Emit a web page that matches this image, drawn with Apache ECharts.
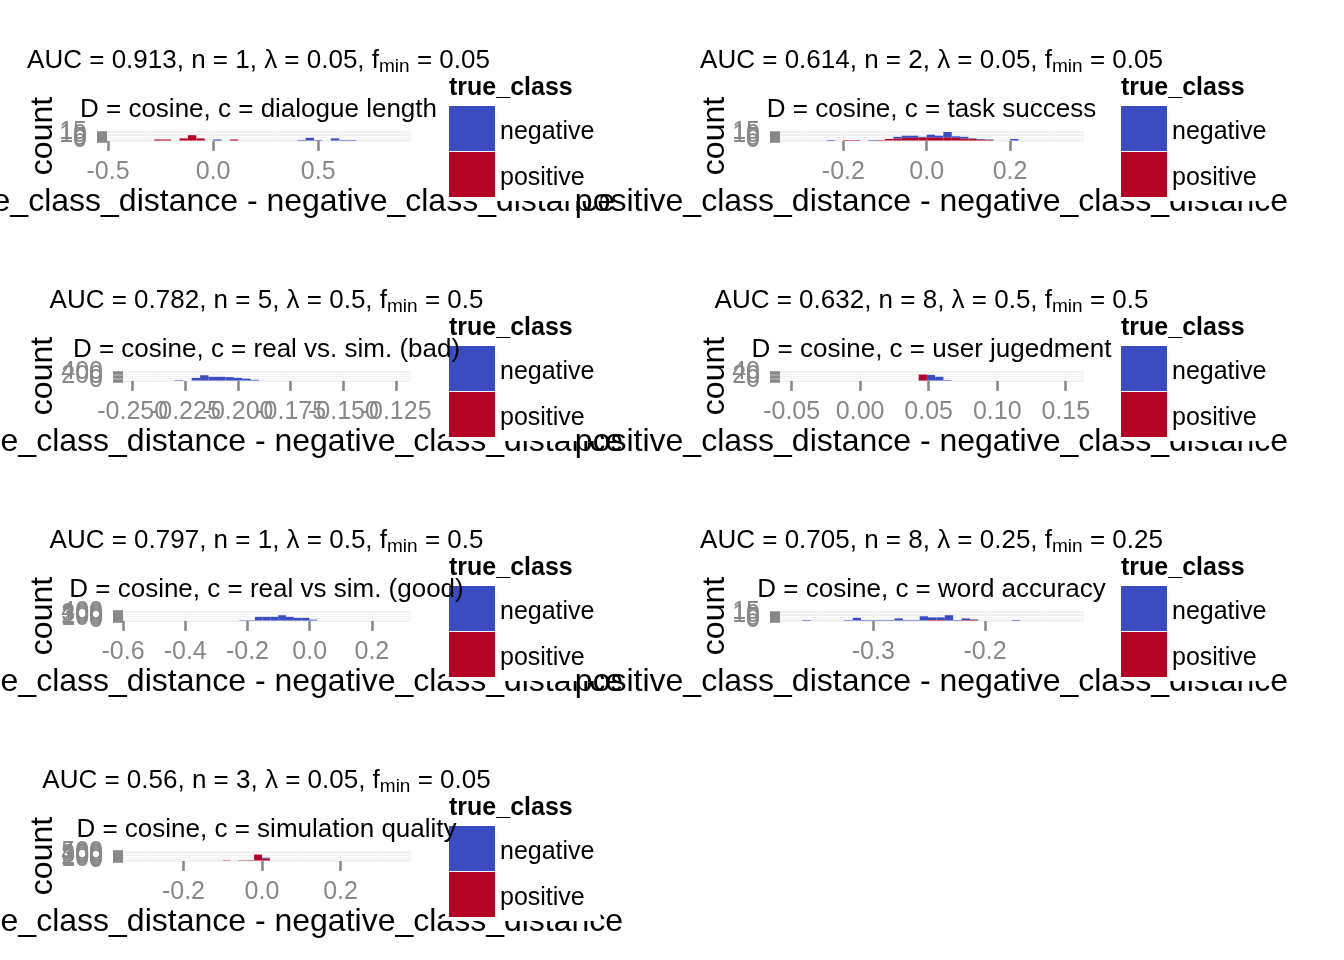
<!DOCTYPE html>
<html>
<head>
<meta charset="utf-8">
<script src="https://cdn.jsdelivr.net/npm/echarts@6/dist/echarts.min.js"></script>
<style>
html, body { margin: 0; padding: 0; background: #fff; }
#main { width: 1344px; height: 960px; }
</style>
</head>
<body>
<div id="main"></div>
<script>
// 面板标题
var titles = [
    'AUC = 0.913, n = 1, λ = 0.05, f{s|min} = 0.05',
    'AUC = 0.614, n = 2, λ = 0.05, f{s|min} = 0.05',
    'AUC = 0.782, n = 5, λ = 0.5, f{s|min} = 0.5',
    'AUC = 0.632, n = 8, λ = 0.5, f{s|min} = 0.5',
    'AUC = 0.797, n = 1, λ = 0.5, f{s|min} = 0.5',
    'AUC = 0.705, n = 8, λ = 0.25, f{s|min} = 0.25',
    'AUC = 0.56, n = 3, λ = 0.05, f{s|min} = 0.05'
];
var subtitles = [
    'D = cosine, c = dialogue length',
    'D = cosine, c = task success',
    'D = cosine, c = real vs. sim. (bad)',
    'D = cosine, c = user jugedment',
    'D = cosine, c = real vs sim. (good)',
    'D = cosine, c = word accuracy',
    'D = cosine, c = simulation quality'
];
var classNames = ['negative', 'positive'];

// histogram bins: left edge of first bin, bin width
var binStart = [-0.28, -0.24, -0.230, 0.0427, -0.226, -0.3635, -0.10];
var binWidth = [0.04, 0.02, 0.004, 0.006, 0.025, 0.0075, 0.02];

// counts per bin (negative stacked on top of positive)
var neg1 = [0, 0, 0, 0, 0, 0, 0, 2, 0, 0, 0, 0, 0, 0, 0, 0, 0, 1, 5, 1, 0, 4, 1, 1];
var pos1 = [2, 2, 0, 4, 10, 4, 0, 0, 0, 2, 0, 0, 0, 0, 0, 0, 0, 0, 0, 0, 0, 0, 0, 0];
var neg2 = [1, 0, 0, 0, 0, 1, 0, 0, 3, 4, 4, 1, 5, 4, 10, 3, 3, 1, 1, 1, 0, 0, 3];
var pos2 = [0, 0, 1, 1, 0, 0, 1, 3, 4, 5, 5, 6, 6, 5, 6, 5, 4, 3, 2, 1, 0, 0, 0];
var neg3 = [25, 0, 130, 255, 180, 180, 165, 130, 90, 35];
var pos3 = [0, 0, 0, 0, 0, 0, 0, 0, 0, 0];
var neg4 = [0, 27, 18, 3];
var pos4 = [29, 0, 0, 0];
var neg5 = [20, 20, 170, 170, 170, 245, 170, 125, 125, 40];
var pos5 = [0, 0, 0, 0, 0, 0, 0, 0, 0, 0];
var neg6 = [1, 0, 0, 0, 0, 1, 5, 1, 1, 1, 1, 4, 1, 1, 8, 5, 5, 10, 1, 3, 1, 0, 0, 0, 0, 1];
var pos6 = [0, 0, 0, 0, 0, 0, 0, 0, 0, 0, 0, 0, 0, 0, 0, 1, 1, 0, 0, 1, 1, 0, 0, 0, 0, 0];
var neg7 = [0, 0, 0, 0, 0, 50];
var pos7 = [20, 0, 20, 25, 350, 115];
var negCounts = [neg1, neg2, neg3, neg4, neg5, neg6, neg7];
var posCounts = [pos1, pos2, pos3, pos4, pos5, pos6, pos7];

// tick labels
var xTicks = [
    [-0.5, 0, 0.5],
    [-0.2, 0, 0.2],
    [-0.25, -0.225, -0.2, -0.175, -0.15, -0.125],
    [-0.05, 0, 0.05, 0.1, 0.15],
    [-0.6, -0.4, -0.2, 0, 0.2],
    [-0.3, -0.2],
    [-0.2, 0, 0.2]
];
var xDigits = [1, 1, 3, 2, 1, 1, 1];
var yTicks = [
    [0, 5, 10, 15],
    [0, 5, 10, 15],
    [0, 200, 400],
    [0, 20, 40],
    [0, 100, 200, 300, 400],
    [0, 5, 10, 15],
    [0, 100, 200, 300, 400, 500]
];

// 布局
var xMin = [-0.505, -0.352, -0.2546, -0.0585, -0.600, -0.3835, -0.354];
var xMax = [0.937, 0.375, -0.1184, 0.1626, 0.3225, -0.1123, 0.377];
var yMax = [17, 17, 440, 44, 420, 17, 530];
var gridLeft = [107, 780, 123, 780, 123, 780, 123];
var colors = ['#3B4CC0', '#B40426'];
var font = '"Liberation Sans", Arial, sans-serif';
var tickGrey = '#888';

function bars(start, width, counts, base) {
    var rows = [];
    for (var k = 0; k < counts.length; k++) {
        if (!counts[k]) continue;
        var b = base ? base[k] : 0;
        rows.push([start + k * width, start + (k + 1) * width, b, b + counts[k]]);
    }
    return rows;
}

function drawBin(params, api) {
    var a = api.coord([api.value(0), api.value(3)]);
    var b = api.coord([api.value(1), api.value(2)]);
    return {
        type: 'rect',
        shape: { x: a[0], y: a[1], width: b[0] - a[0], height: b[1] - a[1] },
        style: { fill: api.visual('color') }
    };
}

// one axis per tick so that overlapping labels are all drawn (like the original)
function tickAxis(gridIndex, pos, min, max, value, margin, z, tickWidth, fmt) {
    return {
        type: 'value', gridIndex: gridIndex, position: pos, min: min, max: max, z: z,
        axisLine: { show: false, onZero: false },
        splitLine: { show: false },
        axisTick: { show: true, length: 10, customValues: [value], lineStyle: { color: tickGrey, width: tickWidth } },
        axisLabel: {
            customValues: [value], margin: margin, fontSize: 25, color: tickGrey, fontFamily: font,
            hideOverlap: false, showMinLabel: true, showMaxLabel: true, formatter: fmt
        }
    };
}

var grids = [], xAxes = [], yAxes = [], series = [], legends = [], graphics = [];

for (var i = 0; i < 7; i++) {
    var col = i % 2, row = Math.floor(i / 2);
    var dx = col * 672, dy = row * 240;
    var right = col ? 1083 : 410;
    var cx = (gridLeft[i] + right) / 2;
    var zAxis = col ? 5 : 1;

    grids.push({
        left: gridLeft[i], top: 131 + dy, width: right - gridLeft[i], height: 10,
        containLabel: false, outerBoundsMode: 'none'
    });

    var xMain = xAxes.length, yMain = yAxes.length;
    xAxes.push({
        type: 'value', gridIndex: i, position: 'bottom', min: xMin[i], max: xMax[i], z: zAxis,
        axisLine: { show: false, onZero: false },
        axisTick: { show: false },
        axisLabel: { show: false },
        splitLine: { show: true, lineStyle: { color: '#f2f2f2', width: 1 } },
        name: 'positive_class_distance - negative_class_distance',
        nameLocation: 'middle', nameGap: 45, nameMoveOverlap: false,
        nameTextStyle: { fontSize: 32, color: '#000', fontFamily: font }
    });
    yAxes.push({
        type: 'value', gridIndex: i, position: 'left', min: -yMax[i] * 0.05, max: yMax[i] * 1.05, z: zAxis,
        axisLine: { show: false, onZero: false },
        axisTick: { show: false },
        axisLabel: { show: false },
        splitLine: { show: true, lineStyle: { color: '#f2f2f2', width: 1 } },
        name: 'count', nameLocation: 'middle', nameGap: gridLeft[i] - dx - 59, nameMoveOverlap: false,
        nameTextStyle: { fontSize: 32, color: '#000', fontFamily: font }
    });

    var fmtX = (function (d) {
        return function (v) { return Number(v).toFixed(d); };
    })(xDigits[i]);
    xTicks[i].forEach(function (v) {
        xAxes.push(tickAxis(i, 'bottom', xMin[i], xMax[i], v, 19, zAxis, 2.5, fmtX));
    });
    yTicks[i].forEach(function (v) {
        yAxes.push(tickAxis(i, 'left', -yMax[i] * 0.05, yMax[i] * 1.05, v, 20, zAxis, 3.5, null));
    });

    series.push({
        type: 'custom', name: classNames[1], xAxisIndex: xMain, yAxisIndex: yMain, z: 6,
        renderItem: drawBin, itemStyle: { color: colors[1] },
        encode: { x: [0, 1], y: [2, 3] },
        data: bars(binStart[i], binWidth[i], posCounts[i])
    });
    series.push({
        type: 'custom', name: classNames[0], xAxisIndex: xMain, yAxisIndex: yMain, z: 6,
        renderItem: drawBin, itemStyle: { color: colors[0] },
        encode: { x: [0, 1], y: [2, 3] },
        data: bars(binStart[i], binWidth[i], negCounts[i], posCounts[i])
    });

    legends.push({
        data: classNames, orient: 'vertical', left: 445 + dx, top: 70 + dy,
        icon: 'rect', itemWidth: 46, itemHeight: 45, itemGap: 1,
        padding: [36, 6, 4, 4], backgroundColor: '#fff', z: col ? 7 : 3,
        selectedMode: false,
        formatter: '{t|{name}}',
        textStyle: {
            fontSize: 25, color: '#000', fontFamily: font,
            rich: { t: { fontSize: 25, color: '#000', fontFamily: font, padding: [7, 0, 0, 0] } }
        }
    });

    graphics.push({
        type: 'text', z: 100,
        style: {
            x: cx, y: 46 + dy, text: titles[i], textAlign: 'center', textVerticalAlign: 'top',
            font: '26px ' + font, fill: '#000', lineHeight: 30,
            rich: { s: { fontSize: 19, lineHeight: 18, verticalAlign: 'bottom', fontFamily: font } }
        }
    });
    graphics.push({
        type: 'text', z: 100,
        style: {
            x: cx, y: 110 + dy, text: subtitles[i], textAlign: 'center', textVerticalAlign: 'middle',
            font: '26px ' + font, fill: '#000'
        }
    });
    graphics.push({
        type: 'text', z: 100,
        style: {
            x: 449 + dx, y: 88 + dy, text: 'true_class', textAlign: 'left', textVerticalAlign: 'middle',
            font: 'bold 25px ' + font, fill: '#000'
        }
    });
}

var chart = echarts.init(document.getElementById('main'));
chart.setOption({
    animation: false,
    backgroundColor: '#fff',
    grid: grids,
    xAxis: xAxes,
    yAxis: yAxes,
    legend: legends,
    series: series,
    graphic: graphics
});
</script>
</body>
</html>
